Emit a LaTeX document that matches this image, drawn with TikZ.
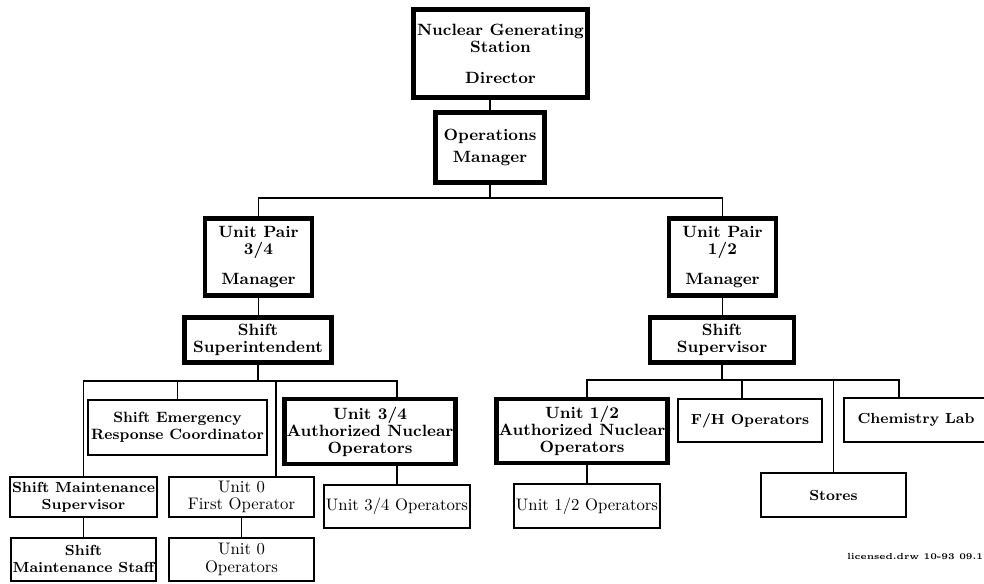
\documentclass[tikz,border=0pt]{standalone}
\usepackage{fontspec}
\usetikzlibrary{positioning}

\tikzset{
  heavybox/.style={draw, line width=2.8pt, align=center, inner sep=1pt,
    font=\fontsize{9.3}{9.7}\selectfont\bfseries},
  lightbox/.style={draw, line width=1.1pt, align=center, inner sep=1pt,
    font=\fontsize{8.3}{9.7}\selectfont\bfseries},
  plainbox/.style={lightbox, font=\fontsize{9.5}{9.7}\selectfont}
}

\begin{document}
\begin{tikzpicture}[x=0.02cm,y=-0.02cm,line width=1pt]
\useasboundingbox (0,0) rectangle (984,584);

% top of the tree
\node[heavybox,minimum width=3.48cm,minimum height=1.76cm] (dir) at (500.5,53.5)
  {Nuclear Generating\\Station\\[8pt]Director};
\node[heavybox,minimum width=2.18cm,minimum height=1.40cm] (ops) at (490,147.5)
  {Operations\\[3pt]Manager};

\node[heavybox,minimum width=2.14cm,minimum height=1.54cm] (up34) at (258.5,257)
  {Unit Pair\\3/4\\[7.5pt]Manager};
\node[heavybox,minimum width=2.14cm,minimum height=1.54cm] (up12) at (722.5,257)
  {Unit Pair\\1/2\\[7.5pt]Manager};
\node[heavybox,minimum width=2.94cm,minimum height=0.90cm] (sup34) at (258,340)
  {Shift\\Superintendent};
\node[heavybox,minimum width=2.88cm,minimum height=0.90cm] (sup12) at (722,340)
  {Shift\\Supervisor};

% unit pair 3/4 side
\node[lightbox,minimum width=3.58cm,minimum height=1.10cm,font=\fontsize{8.5}{9.7}\selectfont\bfseries] (serc) at (177.5,427.5)
  {Shift Emergency\\Response Coordinator};
\node[heavybox,minimum width=3.38cm,minimum height=1.30cm] (ano34) at (370,431.5)
  {Unit 3/4\\Authorized Nuclear\\Operators};
\node[lightbox,minimum width=2.90cm,minimum height=0.80cm] (sms) at (83.5,497)
  {Shift Maintenance\\Supervisor};
\node[lightbox,minimum width=2.90cm,minimum height=0.86cm,below=0.38cm of sms] (smst)
  {Shift\\Maintenance Staff};
\node[plainbox,minimum width=2.90cm,minimum height=0.80cm] (u0fo) at (241.5,497)
  {Unit 0\\First Operator};
\node[plainbox,minimum width=2.90cm,minimum height=0.86cm,below=0.38cm of u0fo] (u0op)
  {Unit 0\\Operators};
\node[plainbox,minimum width=2.88cm,minimum height=0.86cm] (u34op) at (397,506.5)
  {Unit 3/4 Operators};

% unit pair 1/2 side
\node[heavybox,minimum width=3.24cm,minimum height=1.28cm] (ano12) at (582,431)
  {Unit 1/2\\Authorized Nuclear\\Operators};
\node[plainbox,minimum width=2.88cm,minimum height=0.88cm] (u12op) at (587,506)
  {Unit 1/2 Operators};
\node[lightbox,minimum width=2.88cm,minimum height=0.86cm] (fh) at (750,420.5)
  {F/H Operators};
\node[lightbox,minimum width=2.88cm,minimum height=0.88cm] (chem) at (916,420)
  {Chemistry Lab};
\node[lightbox,minimum width=2.90cm,minimum height=0.88cm] (stores) at (833.5,495)
  {Stores};

\node[anchor=east,inner sep=0pt,font=\fontsize{5}{6}\selectfont\bfseries] (stamp) at (984,557)
  {licensed.drw 10-93 09.1};

% bus lines
\coordinate (bus0) at (490,198);
\coordinate (bus1) at (258,381);
\coordinate (bus2) at (722,380);
\coordinate (t1) at (276,381);
\coordinate (t2) at (899,380);
\coordinate (t3) at (742,380);

\draw (ops.north) -- (ops.north |- dir.south);
\draw (ops.south) -- (bus0);
\draw (up34.north) |- (bus0) -| (up12.north);
\draw (up34.south) -- (up34.south |- sup34.north);
\draw (up12.south) -- (up12.south |- sup12.north);

\draw (sup34.south) -- (bus1);
\draw (sms.north) |- (bus1) -| (ano34.north -| u34op.north);
\draw (serc.north) -- (serc.north |- bus1);
\draw (t1) -- (t1 |- u0fo.north);
\draw (ano34.south -| u34op.north) -- (u34op.north);
\draw (sms.south) -- (smst.north);
\draw (u0fo.south) -- (u0op.north);

\draw (sup12.south) -- (bus2);
\draw (ano12.north -| u12op.north) |- (t2) -- (t2 |- chem.north);
\draw (t3) -- (t3 |- fh.north);
\draw (stores.north) -- (stores.north |- bus2);
\draw (ano12.south -| u12op.north) -- (u12op.north);
\end{tikzpicture}
\end{document}
